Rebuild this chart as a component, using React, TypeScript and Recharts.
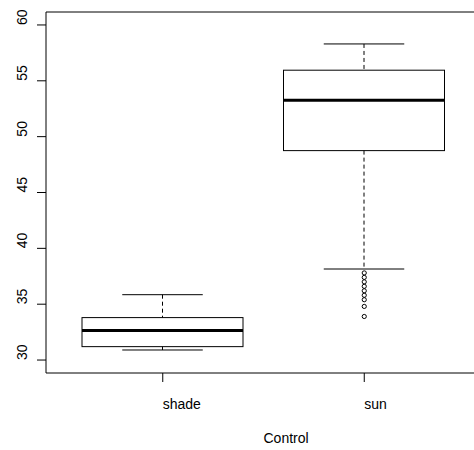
import * as React from 'react'
import { ComposedChart, Bar, Scatter, XAxis, YAxis, CartesianGrid } from 'recharts'

const groups = ['shade', 'sun']
const whiskerLow = [30.9, 38.15]
const lowerHinge = [31.2, 48.75]
const medians = [32.65, 53.25]
const upperHinge = [33.8, 55.95]
const whiskerHigh = [35.85, 58.3]
const sunOutliers = [37.8, 37.4, 37.0, 36.6, 36.2, 35.8, 35.4, 34.8, 33.9]
const yTicks = [30, 35, 40, 45, 50, 55, 60]
const yDomain = [28.84, 61.16]

const rows = groups.map((group, i) => ({
  group,
  range: [whiskerLow[i], whiskerHigh[i]],
  lo: whiskerLow[i],
  q1: lowerHinge[i],
  med: medians[i],
  q3: upperHinge[i],
  hi: whiskerHigh[i]
}))

const outlierRows = sunOutliers.map((v) => ({ group: 'sun', outlier: v }))

const font = '"Liberation Sans", Arial, sans-serif'

function BoxShape(props: any) {
  const { x, y, width, height, payload } = props
  const top = Math.min(y, y + height)
  const h = Math.abs(height)
  const py = (v: number) => top + ((payload.hi - v) / (payload.hi - payload.lo)) * h
  const cx = x + width / 2
  const cap = width / 4
  return (
    <g stroke='#000' fill='none'>
      <line x1={cx} x2={cx} y1={py(payload.hi)} y2={py(payload.q3)} strokeDasharray='4 3' />
      <line x1={cx} x2={cx} y1={py(payload.q1)} y2={py(payload.lo)} strokeDasharray='4 3' />
      <line x1={cx - cap} x2={cx + cap} y1={py(payload.hi)} y2={py(payload.hi)} />
      <line x1={cx - cap} x2={cx + cap} y1={py(payload.lo)} y2={py(payload.lo)} />
      <rect x={x} y={py(payload.q3)} width={width} height={py(payload.q1) - py(payload.q3)} />
      <line x1={x} x2={x + width} y1={py(payload.med)} y2={py(payload.med)} strokeWidth={3} />
    </g>
  )
}

function OutlierDot(props: any) {
  const { cx, cy } = props
  return <circle cx={cx} cy={cy} r={2.1} fill='none' stroke='#000' strokeWidth={1} />
}

function XTick(props: any) {
  const { x, y, payload } = props
  return (
    <text x={x} y={y + 27} textAnchor='start' fontSize={14} fontFamily={font} fill='#000'>
      {payload.value}
    </text>
  )
}

function YTick(props: any) {
  const { x, y, payload } = props
  const bx = x - 10
  return (
    <text
      x={bx}
      y={y}
      transform={`rotate(-90, ${bx}, ${y})`}
      textAnchor='start'
      fontSize={14}
      fontFamily={font}
      fill='#000'
    >
      {payload.value}
    </text>
  )
}

function XLabel(props: any) {
  const { viewBox } = props
  return (
    <text
      x={viewBox.x + viewBox.width / 2}
      y={viewBox.y + 70}
      textAnchor='start'
      fontSize={14}
      fontFamily={font}
      fill='#000'
    >
      Control
    </text>
  )
}

// plot frame: one line at each edge of the plotting region
const frameH = ({ offset }: any) => [offset.top, offset.top + offset.height]
const frameV = ({ offset }: any) => [offset.left, offset.left + offset.width]

export default function App() {
  return (
    <div
      style={{
        position: 'absolute',
        left: 0,
        top: 0,
        width: 474,
        height: 450,
        overflow: 'hidden',
        background: '#fff'
      }}
    >
      <ComposedChart width={490} height={450} data={rows} margin={{ top: 12, right: 9, bottom: 0, left: 0 }}>
        <CartesianGrid
          stroke='#000'
          strokeWidth={1}
          horizontalCoordinatesGenerator={frameH}
          verticalCoordinatesGenerator={frameV}
        />
        <XAxis
          dataKey='group'
          type='category'
          allowDuplicatedCategory={false}
          padding={{ left: 16, right: 16 }}
          height={77}
          axisLine={false}
          tickLine={{ stroke: '#000' }}
          tickSize={9}
          tickMargin={0}
          tick={<XTick />}
          label={<XLabel />}
        />
        <YAxis
          type='number'
          domain={yDomain}
          ticks={yTicks}
          allowDataOverflow
          width={46}
          axisLine={false}
          tickLine={{ stroke: '#000' }}
          tickSize={9}
          tickMargin={0}
          tick={<YTick />}
        />
        <Bar dataKey='range' barSize={161} shape={<BoxShape />} isAnimationActive={false} />
        <Scatter data={outlierRows} dataKey='outlier' shape={<OutlierDot />} isAnimationActive={false} />
      </ComposedChart>
    </div>
  )
}
